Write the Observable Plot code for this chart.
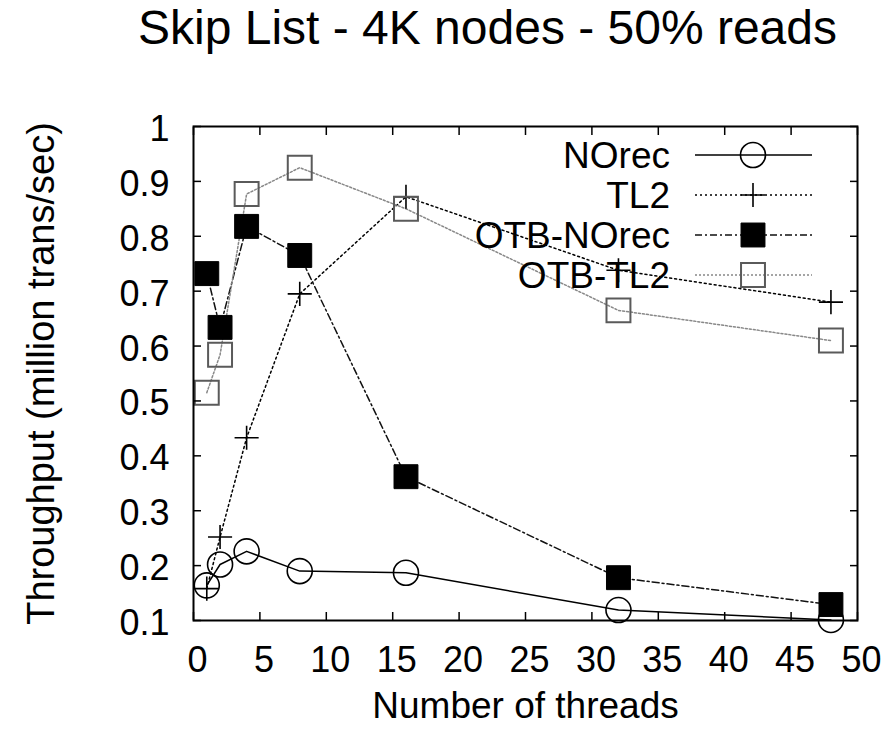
<!DOCTYPE html>
<html><head><meta charset="utf-8">
<script src="https://cdn.jsdelivr.net/npm/d3@7"></script>
<script src="https://cdn.jsdelivr.net/npm/@observablehq/plot@0.6"></script>
<style>
body{margin:0;background:#fff;}
#title{font-family:"Liberation Sans",Arial,Helvetica,sans-serif;font-size:48px;line-height:56px;height:56px;width:895px;padding-left:80px;box-sizing:border-box;text-align:center;color:#000;white-space:nowrap;}
#chart svg{display:block;}
</style></head>
<body>
<div id="title">Skip List - 4K nodes - 50% reads</div>
<div id="chart"></div>
<script>
const threads = [1, 2, 4, 8, 16, 32, 48];
const norec = [0.164, 0.202, 0.226, 0.190, 0.187, 0.119, 0.101];
const tl2 = [0.158, 0.252, 0.433, 0.695, 0.872, 0.738, 0.680];
const otbNorec = [0.732, 0.634, 0.818, 0.765, 0.362, 0.178, 0.129];
const otbTl2 = [0.515, 0.584, 0.877, 0.925, 0.850, 0.665, 0.610];
const seriesNames = ["NOrec", "TL2", "OTB-NOrec", "OTB-TL2"];
const xTicks = [0, 5, 10, 15, 20, 25, 30, 35, 40, 45, 50];
const yTicks = [0.1, 0.2, 0.3, 0.4, 0.5, 0.6, 0.7, 0.8, 0.9, 1];
const xLabel = "Number of threads";
const yLabel = "Throughput (million trans/sec)";

const seriesValues = [norec, tl2, otbNorec, otbTl2];
const styles = [
  {stroke: "#000", dash: null, symbol: "circle", r: 12.5, fill: "none", mstroke: "#000", mw: 1.6},
  {stroke: "#000", dash: "2,3", symbol: "plus", r: 7.8, fill: "none", mstroke: "#000", mw: 1.6},
  {stroke: "#111", dash: "7,3,2,3", symbol: "square", r: 13.5, fill: "#000", mstroke: "#000", mw: 1},
  {stroke: "#888", dash: "2,2", symbol: "square", r: 13.5, fill: "none", mstroke: "#5a5a5a", mw: 2}
];

const rowsFor = (vals, name) => threads.map((t, i) => ({x: t, y: vals[i], s: name}));

const font = "Liberation Sans, Arial, Helvetica, sans-serif";
const marks = [];
seriesValues.forEach((vals, k) => {
  const st = styles[k];
  marks.push(Plot.line(rowsFor(vals, seriesNames[k]), {x: "x", y: "y", stroke: st.stroke, strokeWidth: 1.5, strokeDasharray: st.dash}));
});
seriesValues.forEach((vals, k) => {
  const st = styles[k];
  marks.push(Plot.dot(rowsFor(vals, seriesNames[k]), {x: "x", y: "y", symbol: () => st.symbol, r: st.r, fill: st.fill, stroke: st.mstroke, strokeWidth: st.mw}));
});

const plot = Plot.plot({
  width: 895,
  height: 681,
  marginTop: 70,
  marginBottom: 117,
  marginLeft: 193,
  marginRight: 38,
  style: {fontFamily: font, fontSize: "36px", color: "#000", background: "#fff", overflow: "visible"},
  x: {domain: [0, 50]},
  y: {domain: [0.1, 1]},
  symbol: {type: "identity"},
  marks: [
    ...marks,
    Plot.axisX(xTicks, {anchor: "bottom", tickSize: -8, text: null, label: null, strokeWidth: 1.5}),
    Plot.axisX(xTicks, {anchor: "top", tickSize: -8, text: null, label: null, strokeWidth: 1.5}),
    Plot.axisY(yTicks, {anchor: "left", tickSize: -8, text: null, label: null, strokeWidth: 1.5}),
    Plot.axisY(yTicks, {anchor: "right", tickSize: -8, text: null, label: null, strokeWidth: 1.5}),
    Plot.axisX(xTicks, {anchor: "bottom", tickSize: 0, tickPadding: 26, fontSize: 36, dx: 4, label: null, tickFormat: d => String(d)}),
    Plot.axisY(yTicks, {anchor: "left", tickSize: 0, tickPadding: 24, fontSize: 36, dy: 3, label: null, tickFormat: d => String(d)}),
    Plot.frame({stroke: "#000", strokeWidth: 2}),
    Plot.text([xLabel], {frameAnchor: "bottom", dy: 97, fontSize: 37, text: d => d}),
    Plot.text([yLabel], {frameAnchor: "left", dx: -152, rotate: -90, textAnchor: "middle", fontSize: 38, text: d => d})
  ]
});
document.getElementById("chart").appendChild(plot);

// legend (gnuplot style, inside top-right of the frame)
const svg = d3.select(plot);
const leg = svg.append("g").attr("font-family", font).attr("font-size", 37);
seriesNames.forEach((name, k) => {
  const st = styles[k];
  const yy = 99 + k * 40;
  leg.append("text").attr("x", 670).attr("y", yy).attr("dy", "0.35em").attr("text-anchor", "end").attr("fill", "#000").text(name);
  leg.append("line").attr("x1", 695).attr("x2", 812).attr("y1", yy).attr("y2", yy)
    .attr("stroke", st.stroke).attr("stroke-width", 1.5).attr("stroke-dasharray", st.dash);
  let d;
  if (st.symbol === "plus") d = "M-12,0H12M0,-12V12";
  else d = d3.symbol(st.symbol === "circle" ? d3.symbolCircle : d3.symbolSquare, st.r * st.r * Math.PI)();
  leg.append("path").attr("transform", `translate(753,${yy})`)
    .attr("d", d).attr("fill", st.fill).attr("stroke", st.mstroke).attr("stroke-width", st.mw);
});
</script>
</body></html>
